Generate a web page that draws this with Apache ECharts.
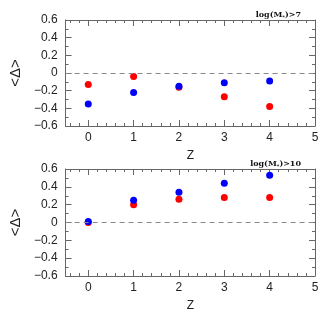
<!DOCTYPE html>
<html><head><meta charset="utf-8">
<script src="https://cdn.jsdelivr.net/npm/echarts@6/dist/echarts.min.js"></script>
<style>html,body{margin:0;padding:0;background:#fff}#c{width:334px;height:316px}</style>
</head><body><div id="c"></div>
<script>
const zValues = [0, 1, 2, 3, 4];
const topRed = [-0.13, -0.04, -0.16, -0.27, -0.38];
const topBlue = [-0.35, -0.22, -0.15, -0.11, -0.09];
const botRed = [0.0, 0.20, 0.26, 0.28, 0.28];
const botBlue = [0.01, 0.25, 0.34, 0.44, 0.53];
const xTicks = [0, 1, 2, 3, 4, 5];
const titles = ['7', '10'];

const xMinor = [];
for (let v = -0.4; v < 5; v += 0.2) { const r = Math.round(v * 10) / 10; if (Math.abs(r - Math.round(r)) > 1e-6) xMinor.push(r); }

const chart = echarts.init(document.getElementById('c'));
const axisCol = '#666';
function xAxes(gi) {
  const base = {gridIndex: gi, type: 'value', min: -0.5, max: 5, interval: 0.5,
    axisLine: {show: true, onZero: false, lineStyle: {color: axisCol, width: 1}},
    axisTick: {show: true, inside: true, length: 6, customValues: xTicks, lineStyle: {color: axisCol}},
    splitLine: {show: false}};
  const minor = {gridIndex: gi, type: 'value', min: -0.5, max: 5, interval: 0.5,
    axisLine: {show: false, onZero: false},
    axisTick: {show: true, inside: true, length: 3, customValues: xMinor, lineStyle: {color: axisCol}},
    axisLabel: {show: false}, splitLine: {show: false}};
  return [
    Object.assign({}, base, {position: 'bottom', name: 'Z', nameLocation: 'middle', nameGap: 24,
      nameTextStyle: {fontFamily: 'Liberation Sans', fontSize: 12, color: '#222'},
      axisLabel: {fontFamily: 'Liberation Sans', fontSize: 12, color: '#222', margin: 6,
        customValues: xTicks, formatter: v => String(v)}}),
    Object.assign({}, base, {position: 'top', axisLabel: {show: false}}),
    Object.assign({}, minor, {position: 'bottom'}),
    Object.assign({}, minor, {position: 'top'})
  ];
}
function yAxes(gi) {
  const base = {gridIndex: gi, type: 'value', min: -0.6, max: 0.6, interval: 0.2,
    axisLine: {show: true, onZero: false, lineStyle: {color: axisCol, width: 1}},
    axisTick: {show: true, inside: true, length: 6, lineStyle: {color: axisCol}},
    minorTick: {show: true, splitNumber: 2, length: 3, lineStyle: {color: axisCol}},
    splitLine: {show: false}};
  return [
    Object.assign({}, base, {position: 'left', name: '<Δ>', nameLocation: 'middle', nameGap: 38, nameRotate: 90,
      nameTextStyle: {fontFamily: 'Liberation Sans', fontSize: 15, color: '#222'},
      axisLabel: {fontFamily: 'Liberation Sans', fontSize: 12, color: '#222', margin: 8,
        formatter: v => { const r = Math.round(v * 10) / 10; return r === 0 ? '0' : (r < 0 ? '\u2212' + Math.abs(r) : String(r)); }}}),
    Object.assign({}, base, {position: 'right', axisLabel: {show: false}})
  ];
}
const dashed = {silent: true, symbol: 'none', label: {show: false},
  lineStyle: {type: [5, 4], color: '#888', width: 1}, data: [{yAxis: 0}]};
function sc(xi, yi, vals, color, withLine) {
  const s = {type: 'scatter', xAxisIndex: xi, yAxisIndex: yi, symbolSize: 7,
    itemStyle: {color: color, opacity: 1}, data: zValues.map((z, i) => [z, vals[i]])};
  if (withLine) s.markLine = dashed;
  return s;
}
const titleRich = {
  a: {fontFamily: 'DejaVu Serif', fontSize: 8, color: '#111'},
  s: {fontFamily: 'DejaVu Serif', fontSize: 5, color: '#111', verticalAlign: 'bottom', padding: [5, 0, 0, 0]}
};
chart.setOption({
  animation: false,
  grid: [
    {left: 60, right: 19, top: 20, height: 106},
    {left: 60, right: 19, top: 169, height: 107}
  ],
  title: [
    {text: '{a|log(M}{s|*}{a|)>' + titles[0] + '}', right: 28, top: 5, textStyle: {rich: titleRich}},
    {text: '{a|log(M}{s|*}{a|)>' + titles[1] + '}', right: 28, top: 154, textStyle: {rich: titleRich}}
  ],
  xAxis: [...xAxes(0), ...xAxes(1)],
  yAxis: [...yAxes(0), ...yAxes(1)],
  series: [
    sc(0, 0, topRed, '#ff0000', true),
    sc(0, 0, topBlue, '#0000ff', false),
    sc(4, 2, botRed, '#ff0000', true),
    sc(4, 2, botBlue, '#0000ff', false)
  ]
});
</script></body></html>
